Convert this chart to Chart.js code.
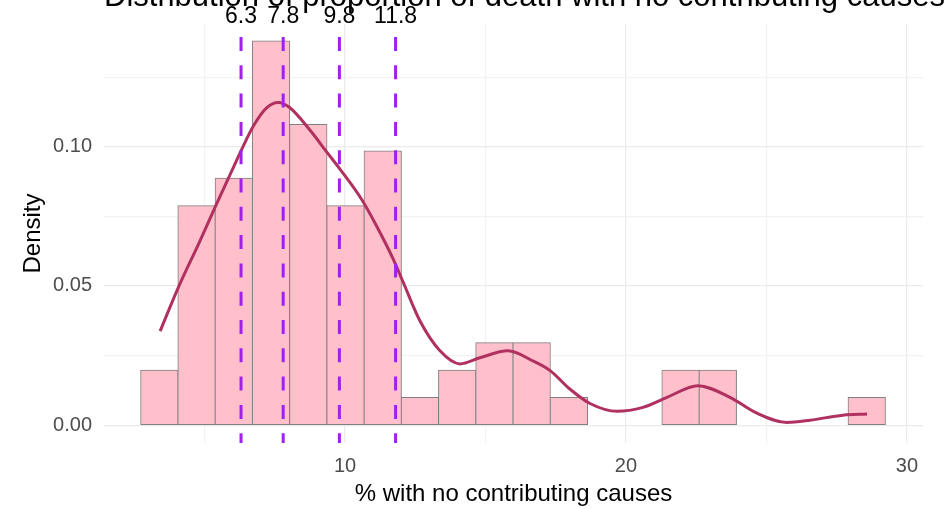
<!DOCTYPE html>
<html>
<head>
<meta charset="utf-8">
<script src="https://cdn.jsdelivr.net/npm/chart.js@4/dist/chart.umd.min.js"></script>
<style>
  html, body { margin: 0; padding: 0; background: #fff; }
  canvas { display: block; }
</style>
</head>
<body>
<canvas id="histChart" width="948" height="509"></canvas>
<script>
// histogram bins (mid points) and densities
const binMids = [3.393, 4.718, 6.043, 7.368, 8.693, 10.018, 11.343, 12.668, 13.993, 15.318,
                 16.643, 17.968, 19.293, 20.618, 21.943, 23.268, 24.593, 25.918, 27.243, 28.568];
const binDensity = [0.0197, 0.0788, 0.0887, 0.138, 0.108, 0.0788, 0.0985, 0.0099, 0.0197, 0.0296,
                    0.0296, 0.0099, 0, 0, 0.0197, 0.0197, 0, 0, 0, 0.0099];

// kernel density curve
const curveX = [3.42, 4.07, 4.84, 5.43, 5.91, 6.32, 6.74, 7.21, 7.63, 8.04, 8.75, 9.36, 9.82, 10.6,
                11.1, 11.7, 12.06, 12.67, 13.38, 14.09, 14.8, 15.8, 16.7, 17.3, 18.0, 18.72, 19.68,
                20.6, 21.46, 22.56, 23.7, 24.66, 25.73, 26.55, 27.72, 28.58];
const curveY = [0.0338, 0.0495, 0.0662, 0.0795, 0.0900, 0.0990, 0.1075, 0.1140, 0.1159, 0.1140, 0.106,
                0.098, 0.092, 0.081, 0.072, 0.060, 0.0516, 0.0374, 0.0267, 0.022, 0.0242, 0.0267,
                0.023, 0.0196, 0.013, 0.0078, 0.005, 0.0064, 0.010, 0.0142, 0.010, 0.0043, 0.001,
                0.0018, 0.0036, 0.004];

// dashed reference lines
const vlineValues = [6.3, 7.8, 9.8, 11.8];
const vlineLabels = ['6.3', '7.8', '9.8', '11.8'];

// axes
const xTickValues = [10, 20, 30];
const xTickLabels = ['10', '20', '30'];
const xMinorValues = [5, 15, 25];
const yTickValues = [0, 0.05, 0.10];
const yTickLabels = ['0.00', '0.05', '0.10'];
const yMinorValues = [0.025, 0.075, 0.125];
const xMin = 1.423, xMax = 30.57;
const yMin = -0.0064, yMax = 0.1441;

const titleText = 'Distribution of proportion of death with no contributing causes';
const xTitle = '% with no contributing causes';
const yTitle = 'Density';

const FONT = "'Liberation Sans', Arial, sans-serif";

function allTicks(major, minor) {
  return major.concat(minor).sort((a, b) => a - b).map(v => ({ value: v }));
}
function labelFor(v, values, labels) {
  const i = values.findIndex(t => Math.abs(t - v) < 1e-9);
  return i < 0 ? '' : labels[i];
}
function isMajor(v, values) {
  return values.some(t => Math.abs(t - v) < 1e-9);
}

const extraText = {
  id: 'extraText',
  afterDraw(chart) {
    const ctx = chart.ctx;
    const xs = chart.scales.x;
    ctx.save();
    ctx.fillStyle = '#000';
    ctx.font = '31px ' + FONT;
    ctx.textAlign = 'left';
    ctx.textBaseline = 'alphabetic';
    ctx.fillText(titleText, 104, 6);

    ctx.font = '23px ' + FONT;
    ctx.textAlign = 'center';
    ctx.textBaseline = 'middle';
    vlineValues.forEach((v, i) => {
      ctx.fillText(vlineLabels[i], xs.getPixelForValue(v), 17);
    });
    ctx.restore();
  }
};

const datasets = [];
vlineValues.forEach(v => {
  datasets.push({
    type: 'line',
    data: [{ x: v, y: yMax }, { x: v, y: yMin }],
    borderColor: '#A020F0',
    borderWidth: 3,
    borderDash: [14, 14.3],
    borderDashOffset: 15.3,
    pointRadius: 0,
    order: 0
  });
});
datasets.push({
  type: 'line',
  data: curveX.map((x, i) => ({ x: x, y: curveY[i] })),
  borderColor: '#B03060',
  borderWidth: 3,
  pointRadius: 0,
  cubicInterpolationMode: 'monotone',
  order: 1
});
datasets.push({
  type: 'bar',
  data: binMids.map((x, i) => ({ x: x, y: binDensity[i] })),
  backgroundColor: '#FFC0CB',
  borderColor: '#7F7F7F',
  borderWidth: 1,
  borderSkipped: false,
  inflateAmount: 0.5,
  barPercentage: 1,
  categoryPercentage: 1,
  order: 2
});

new Chart(document.getElementById('histChart'), {
  type: 'bar',
  data: { datasets: datasets },
  plugins: [extraText],
  options: {
    responsive: false,
    animation: false,
    devicePixelRatio: 1,
    layout: { padding: { top: 20, right: 25, left: 0, bottom: 0 } },
    plugins: {
      legend: { display: false },
      tooltip: { enabled: false },
      title: { display: false }
    },
    scales: {
      x: {
        type: 'linear',
        min: xMin,
        max: xMax,
        offset: false,
        afterBuildTicks: s => { s.ticks = allTicks(xTickValues, xMinorValues); },
        afterFit: s => { s.height = 66; },
        border: { display: false },
        grid: {
          offset: false,
          drawTicks: false,
          color: ctx => isMajor(ctx.tick.value, xTickValues) ? '#EBEBEB' : '#F2F2F2',
          lineWidth: 1.2
        },
        ticks: {
          padding: 11,
          color: '#4D4D4D',
          font: { family: FONT, size: 20 },
          maxRotation: 0,
          autoSkip: false,
          callback: v => labelFor(v, xTickValues, xTickLabels)
        },
        title: {
          display: true,
          text: xTitle,
          color: '#000',
          font: { family: FONT, size: 24 },
          padding: { top: 0, bottom: 0 }
        }
      },
      y: {
        type: 'linear',
        min: yMin,
        max: yMax,
        afterBuildTicks: s => { s.ticks = allTicks(yTickValues, yMinorValues); },
        afterFit: s => { s.width = 104; },
        border: { display: false },
        grid: {
          drawTicks: false,
          color: ctx => isMajor(ctx.tick.value, yTickValues) ? '#EBEBEB' : '#F2F2F2',
          lineWidth: 1.2
        },
        ticks: {
          padding: 12,
          color: '#4D4D4D',
          font: { family: FONT, size: 20 },
          autoSkip: false,
          callback: v => labelFor(v, yTickValues, yTickLabels)
        },
        title: {
          display: true,
          text: yTitle,
          color: '#000',
          font: { family: FONT, size: 24 },
          padding: { top: 18.6, bottom: 0 }
        }
      }
    }
  }
});
</script>
</body>
</html>
